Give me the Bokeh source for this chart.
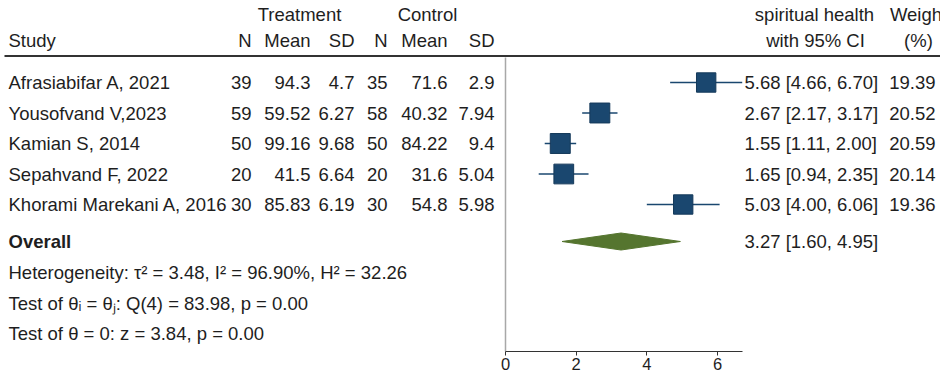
from bokeh.plotting import figure
from bokeh.models import Range1d, ColumnDataSource, FixedTicker
from bokeh.core.properties import value
from bokeh.embed import file_html
from bokeh.resources import INLINE

# ---------------- data ----------------
studies = ["Afrasiabifar A, 2021", "Yousofvand V,2023", "Kamian S, 2014",
           "Sepahvand F, 2022", "Khorami Marekani A, 2016"]
n_t = [39, 59, 50, 20, 30]
mean_t = ["94.3", "59.52", "99.16", "41.5", "85.83"]
sd_t = ["4.7", "6.27", "9.68", "6.64", "6.19"]
n_c = [35, 58, 50, 20, 30]
mean_c = ["71.6", "40.32", "84.22", "31.6", "54.8"]
sd_c = ["2.9", "7.94", "9.4", "5.04", "5.98"]
est = [5.68, 2.67, 1.55, 1.65, 5.03]
ci_lo = [4.66, 2.17, 1.11, 0.94, 4.00]
ci_hi = [6.70, 3.17, 2.00, 2.35, 6.06]
weights = [19.39, 20.52, 20.59, 20.14, 19.36]
overall_est, overall_lo, overall_hi = 3.27, 1.60, 4.95
x_ticks = [0, 2, 4, 6]
stats_lines = ["Heterogeneity: \u03c4\u00b2 = 3.48, I\u00b2 = 96.90%, H\u00b2 = 32.26",
               "Test of \u03b8\u1d62 = \u03b8\u2c7c: Q(4) = 83.98, p = 0.00",
               "Test of \u03b8 = 0: z = 3.84, p = 0.00"]

# ---------------- layout ----------------
W, H = 940, 376
BOT = 25
HF = H - BOT
X0 = 505.0          # pixel of x = 0
S = 35.33           # pixels per unit


def xd(px):
    return (px - X0) / S


def yd(py):
    return py


FONT = value("Liberation Sans")
FS = "18.5px"
TXT = "#1e1e1e"
NAVY = "#1a476f"
GREEN = "#55752f"

ROW0, STEP = 82.0, 30.5
row_y = [yd(ROW0 + i * STEP) for i in range(len(studies))]
y_over = yd(241)
y_stats = [yd(272), yd(302.5), yd(333)]

p = figure(width=W, height=H, x_range=Range1d(xd(0), xd(W)),
           y_range=Range1d(HF, 0), output_backend="svg", toolbar_location=None,
           y_axis_location=None, min_border_left=0, min_border_right=0,
           min_border_top=0, min_border_bottom=BOT)
p.outline_line_color = None
p.grid.visible = False
p.background_fill_color = "white"
p.border_fill_color = "white"

ax = p.xaxis[0]
ax.bounds = (0, 6.71)
ax.ticker = FixedTicker(ticks=x_ticks)
ax.minor_tick_line_color = None
ax.major_tick_out = 4
ax.major_tick_in = 0
ax.major_label_standoff = 2
ax.major_label_text_font = "Liberation Sans"
ax.major_label_text_font_size = "16.5px"
ax.major_label_text_color = TXT
ax.axis_line_color = "#333333"
ax.major_tick_line_color = "#333333"


def txt(x, y, t, align="left", bold=False, size=FS):
    src = ColumnDataSource(dict(x=x, y=y, t=t))
    p.text(x="x", y="y", text="t", source=src, text_font=FONT, text_font_size=size,
           text_align=align, text_baseline="middle", text_color=TXT,
           text_font_style="bold" if bold else "normal")


# header rule and null line
p.segment(x0=[xd(4)], x1=[xd(W)], y0=[yd(55.5)], y1=[yd(55.5)],
          line_color="#333333", line_width=2)
p.segment(x0=[0], x1=[0], y0=[yd(57)], y1=[HF], line_color="#a8a8a8", line_width=1.5)

# headers
txt([xd(299), xd(427)], [yd(14)] * 2, ["Treatment", "Control"], align="center")
txt([xd(8)], [yd(40)], ["Study"])
col_right = [251, 310, 354, 387, 447, 494]
txt([xd(c) for c in col_right], [yd(40)] * 6, ["N", "Mean", "SD", "N", "Mean", "SD"],
    align="right")
txt([xd(814), xd(815)], [yd(14), yd(40)], ["spiritual health", "with 95% CI"], align="center")
txt([xd(918), xd(918)], [yd(14), yd(40)], ["Weight", "(%)"], align="center")

# study rows
n = len(studies)
txt([xd(8)] * n, row_y, studies)
for c, col in zip(col_right, [n_t, mean_t, sd_t, n_c, mean_c, sd_c]):
    txt([xd(c)] * n, row_y, [str(v) for v in col], align="right")
ci_txt = [f"{e:.2f} [{lo:.2f}, {hi:.2f}]" for e, lo, hi in zip(est, ci_lo, ci_hi)]
txt([xd(744)] * n, row_y, ci_txt)
txt([xd(935)] * n, row_y, [f"{w:.2f}" for w in weights], align="right")

# CI lines and squares
p.segment(x0=ci_lo, x1=ci_hi, y0=row_y, y1=row_y, line_color=NAVY, line_width=1.5)
sizes = [4.4 * w ** 0.5 for w in weights]
p.scatter(x=est, y=row_y, size=sizes, marker="square", fill_color=NAVY,
          line_color="#15395a", line_width=1)

# overall
HALF = 8.5
p.patches(xs=[[overall_lo, overall_est, overall_hi, overall_est]],
          ys=[[y_over, y_over - HALF, y_over, y_over + HALF]],
          fill_color=GREEN, line_color=GREEN, line_width=1)
txt([xd(8)], [y_over], ["Overall"], bold=True)
txt([xd(744)], [y_over], [f"{overall_est:.2f} [{overall_lo:.2f}, {overall_hi:.2f}]"])
txt([xd(8)] * 3, y_stats, stats_lines)

open("out.html", "w").write(file_html(p, INLINE, title="Forest plot"))
